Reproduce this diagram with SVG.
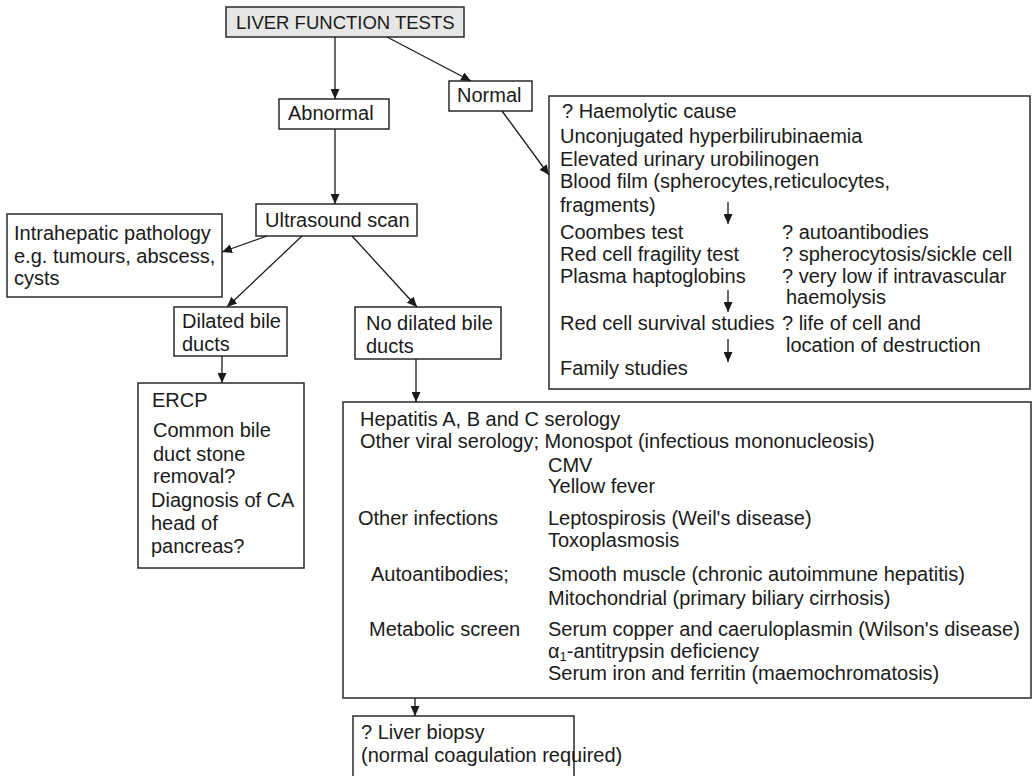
<svg xmlns="http://www.w3.org/2000/svg" width="1033" height="776" viewBox="0 0 1033 776">
<defs>
<marker id="ah" markerUnits="userSpaceOnUse" markerWidth="10" markerHeight="9" refX="10" refY="4.5" orient="auto">
<path d="M0,0 L10,4.5 L0,9 z" fill="#1a1a1a"/>
</marker>
<style>
.box{fill:#fff;stroke:#2a2a2a;stroke-width:1.5}
.grey{fill:#e6e6e6}
.t{font-family:"Liberation Sans",Arial,sans-serif;font-size:20px;fill:#1a1a1a}
.caps{font-size:18.5px}
.c{stroke:#1a1a1a;stroke-width:1.3;fill:none;marker-end:url(#ah)}
</style>
</defs>
<rect width="1033" height="776" fill="#fff"/>

<g id="lft">
<rect class="box grey" x="226" y="7" width="238" height="30"/>
<text class="t caps" x="236" y="29">LIVER FUNCTION TESTS</text>
</g>

<g id="abnormal">
<rect class="box" x="279" y="99" width="110" height="30"/>
<text class="t" x="288" y="120">Abnormal</text>
</g>

<g id="normal">
<rect class="box" x="449" y="81" width="83" height="30"/>
<text class="t" x="457" y="102">Normal</text>
</g>

<g id="haemolytic">
<rect class="box" x="549" y="96" width="481" height="293"/>
<text class="t" x="562" y="118">? Haemolytic cause</text>
<text class="t" x="560" y="143">Unconjugated hyperbilirubinaemia</text>
<text class="t" x="560" y="166">Elevated urinary urobilinogen</text>
<text class="t" x="560" y="188">Blood film (spherocytes,reticulocytes,</text>
<text class="t" x="560" y="212">fragments)</text>
<text class="t" x="560" y="239">Coombes test</text>
<text class="t" x="782" y="239">? autoantibodies</text>
<text class="t" x="560" y="261">Red cell fragility test</text>
<text class="t" x="782" y="261">? spherocytosis/sickle cell</text>
<text class="t" x="560" y="283">Plasma haptoglobins</text>
<text class="t" x="782" y="283">? very low if intravascular</text>
<text class="t" x="786" y="304">haemolysis</text>
<text class="t" x="560" y="330">Red cell survival studies</text>
<text class="t" x="782" y="330">? life of cell and</text>
<text class="t" x="786" y="352">location of destruction</text>
<text class="t" x="560" y="375">Family studies</text>
</g>

<g id="ultrasound">
<rect class="box" x="256" y="204" width="161" height="32"/>
<text class="t" x="265" y="227">Ultrasound scan</text>
</g>

<g id="intrahepatic">
<rect class="box" x="7" y="214" width="215" height="83"/>
<text class="t" x="14" y="240">Intrahepatic pathology</text>
<text class="t" x="14" y="263">e.g. tumours, abscess,</text>
<text class="t" x="14" y="285">cysts</text>
</g>

<g id="dilated">
<rect class="box" x="174" y="307" width="113" height="49"/>
<text class="t" x="182" y="328">Dilated bile</text>
<text class="t" x="182" y="351">ducts</text>
</g>

<g id="nodilated">
<rect class="box" x="355" y="307" width="146" height="52"/>
<text class="t" x="366" y="330">No dilated bile</text>
<text class="t" x="366" y="353">ducts</text>
</g>

<g id="ercp">
<rect class="box" x="138" y="383" width="166" height="185"/>
<text class="t" x="152" y="407">ERCP</text>
<text class="t" x="153" y="437">Common bile</text>
<text class="t" x="153" y="461">duct stone</text>
<text class="t" x="153" y="483">removal?</text>
<text class="t" x="151" y="507">Diagnosis of CA</text>
<text class="t" x="151" y="530">head of</text>
<text class="t" x="151" y="553">pancreas?</text>
</g>

<g id="hepatitis">
<rect class="box" x="343" y="402" width="688" height="296"/>
<text class="t" x="360" y="426">Hepatitis A, B and C serology</text>
<text class="t" x="360" y="448">Other viral serology; Monospot (infectious mononucleosis)</text>
<text class="t" x="548" y="472">CMV</text>
<text class="t" x="548" y="493">Yellow fever</text>
<text class="t" x="358" y="525">Other infections</text>
<text class="t" x="548" y="525">Leptospirosis (Weil's disease)</text>
<text class="t" x="548" y="547">Toxoplasmosis</text>
<text class="t" x="371" y="581">Autoantibodies;</text>
<text class="t" x="548" y="581">Smooth muscle (chronic autoimmune hepatitis)</text>
<text class="t" x="548" y="605">Mitochondrial (primary biliary cirrhosis)</text>
<text class="t" x="369" y="636">Metabolic screen</text>
<text class="t" x="548" y="636">Serum copper and caeruloplasmin (Wilson's disease)</text>
<text class="t" x="548" y="658">α<tspan font-size="13" dy="3">1</tspan><tspan dy="-3">-antitrypsin deficiency</tspan></text>
<text class="t" x="548" y="680">Serum iron and ferritin (maemochromatosis)</text>
</g>

<g id="biopsy">
<rect class="box" x="353" y="716" width="221" height="62"/>
<text class="t" x="361" y="739">? Liver biopsy</text>
<text class="t" x="361" y="762">(normal coagulation required)</text>
</g>

<g id="connectors">
<line class="c" x1="335" y1="37" x2="335" y2="99"/>
<line class="c" x1="387" y1="37" x2="471" y2="81"/>
<line class="c" x1="502" y1="111" x2="549" y2="175"/>
<line class="c" x1="335" y1="129" x2="335" y2="204"/>
<line class="c" x1="267" y1="236" x2="222" y2="252"/>
<line class="c" x1="302" y1="236" x2="227" y2="307"/>
<line class="c" x1="352" y1="236" x2="417" y2="307"/>
<line class="c" x1="222" y1="356" x2="222" y2="383"/>
<line class="c" x1="416" y1="359" x2="416" y2="402"/>
<line class="c" x1="415" y1="698" x2="415" y2="716"/>
<line class="c" x1="728" y1="202" x2="728" y2="224"/>
<line class="c" x1="728" y1="290" x2="728" y2="312"/>
<line class="c" x1="728" y1="339" x2="728" y2="362"/>
</g>
</svg>
